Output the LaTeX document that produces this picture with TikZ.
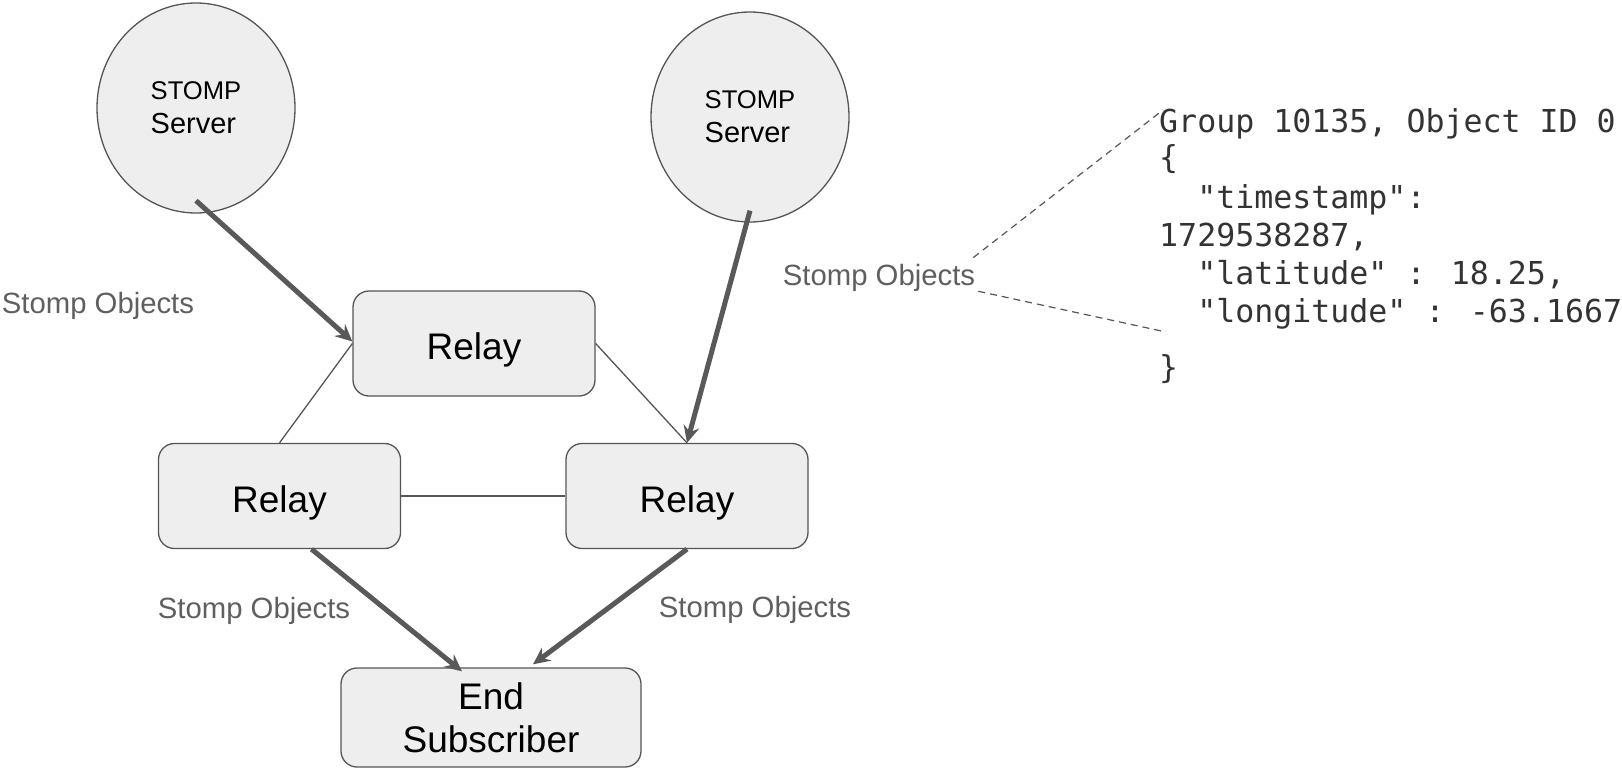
\documentclass[tikz,border=0pt]{standalone}
\usepackage{fontspec}
\setmainfont{Liberation Sans}
\newfontfamily\codefont{DejaVu Sans Mono}
\usetikzlibrary{arrows.meta,shapes.geometric,calc}
\definecolor{boxfill}{HTML}{EEEEEE}
\definecolor{boxline}{HTML}{555555}
\definecolor{edgecol}{HTML}{595959}
\definecolor{labcol}{HTML}{5F5F5F}
\definecolor{codecol}{HTML}{333333}
\newcommand{\srvtext}{{\fontsize{25.6}{34}\selectfont STOMP}\\{\fontsize{29}{34}\selectfont Server}}
\begin{document}
\begin{tikzpicture}[x=1pt,y=-1pt,
 server/.style={ellipse, draw=boxline, fill=boxfill, line width=1.3pt, minimum width=198pt, minimum height=210pt, inner sep=0pt, align=left, font=\fontsize{25.6}{34}\selectfont},
 relay/.style={rectangle, rounded corners=16pt, draw=boxline, fill=boxfill, line width=1.3pt, minimum width=242pt, minimum height=105pt, inner sep=0pt, font=\fontsize{37}{43}\selectfont, text height=32pt, text depth=0pt},
 subbox/.style={rectangle, rounded corners=16pt, draw=boxline, fill=boxfill, line width=1.3pt, minimum width=300pt, minimum height=99pt, inner sep=0pt, align=center, font=\fontsize{37}{43}\selectfont},
 flow/.style={draw=edgecol, line width=5pt, -{Stealth[length=17pt,width=16pt,inset=6pt]}},
 link/.style={draw=boxline, line width=1.3pt},
 dashlink/.style={draw=boxline, line width=1.2pt, dash pattern=on 7pt off 5pt},
 lbl/.style={text=labcol, font=\fontsize{29.3}{34}\selectfont, inner sep=0pt, anchor=base},
 code/.style={text=codecol, font=\codefont\fontsize{31.6}{38}\selectfont, inner sep=0pt, anchor=base west}
]
\useasboundingbox (0,0) rectangle (1622,768);

% servers
\node[server] (s1) at (196,108) {\srvtext};
\node[server] (s2) at (750,117) {\srvtext};

% relays
\node[relay] (r1) at (474,343.5) {Relay};
\node[relay] (r2) at (279.5,496) {Relay};
\node[relay] (r3) at (687,496) {Relay};
\node[subbox] (es) at (491,717.5) {End\\Subscriber};

% thin links
\draw[link] (r1.west) -- (r2.north);
\draw[link] (r1.east) -- (r3.north);
\draw[link] (r2.east) -- (r3.west);

% flows
\draw[flow] ([yshift=13pt]s1.south) -- ([yshift=2pt]r1.west);
\draw[flow] ([yshift=12pt]s2.south) -- (r3.north);
\draw[flow] ([xshift=32pt]r2.south) -- ([xshift=-29pt,yshift=-4pt]es.north);
\draw[flow] (r3.south) -- ([xshift=42pt,yshift=3pt]es.north);

% labels
\node[lbl] (l1) at (98,313) {Stomp Objects};
\node[lbl] (lm) at (879,285) {Stomp Objects};
\node[lbl] (l3) at (254,618) {Stomp Objects};
\node[lbl] (l4) at (755,617) {Stomp Objects};

% code block
\node[code] (c1) at (1159,132) {Group 10135, Object ID 0};
\node[code] (c2) at (1159,168) {\{};
\node[code] (c3) at (1159,208) {\phantom{xx}"timestamp":};
\node[code] (c4) at (1159,246) {1729538287,};
\node[code] (c5) at (1159,284) {\phantom{xx}"latitude" : 18.25,};
\node[code] (c6) at (1159,322) {\phantom{xx}"longitude" : -63.1667};
\node[code] (c7) at (1159,378) {\}};

% dashed callout
\coordinate (cu) at (1163,110);
\coordinate (cl) at (1166,332);
\draw[dashlink] ([xshift=-2pt,yshift=6pt]lm.north east) -- (cu);
\draw[dashlink] ([xshift=3pt]lm.south east) -- (cl);
\end{tikzpicture}
\end{document}
